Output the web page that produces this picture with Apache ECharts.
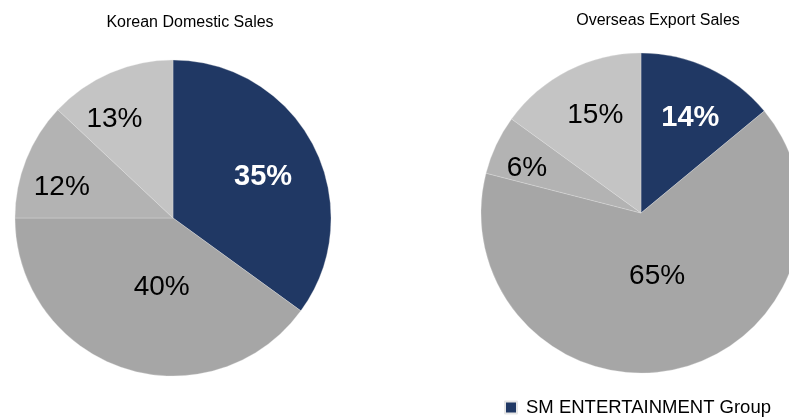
<!DOCTYPE html>
<html>
<head>
<meta charset="utf-8">
<script src="https://cdn.jsdelivr.net/npm/echarts@6/dist/echarts.min.js"></script>
<style>
  html, body { margin: 0; padding: 0; background: #ffffff; }
  #chart { width: 789px; height: 418px; }
</style>
</head>
<body>
<div id="chart"></div>
<script>
// Sales share by company, domestic vs. export
const sliceNames = ['SM ENTERTAINMENT Group', 'Others', 'Company B', 'Company C'];
const domesticShare = [35, 40, 12, 13];
const exportShare = [14, 65, 6, 15];
const titles = ['Korean Domestic Sales', 'Overseas Export Sales'];

const sliceColors = ['#203864', '#a6a6a6', '#b3b3b3', '#c4c4c4'];

// small nudges moving each percentage label off the default mid-radius spot
const labelNudge = [
  [[17, -4], [14, -9], [-35, -1], [-26, -23]],
  [[14, -20], [-2, -18], [-39, -9], [-8, -24]]
];

const FONT = '"Liberation Sans", Arial, sans-serif';

function buildData(values) {
  return values.map((v, i) => ({
    name: sliceNames[i],
    value: v,
    itemStyle: { color: sliceColors[i] },
    label: i === 0
      ? { color: '#ffffff', fontWeight: 'bold', fontSize: 29 }
      : { color: '#000000', fontWeight: 'normal', fontSize: 28 }
  }));
}

function pieSeries(values, center, radius) {
  return {
    type: 'pie',
    center: center,
    radius: radius,
    startAngle: 90,
    clockwise: true,
    avoidLabelOverlap: false,
    animation: false,
    silent: true,
    itemStyle: { borderColor: '#e6e6e6', borderWidth: 0.3 },
    label: {
      show: true,
      position: 'inside',
      formatter: '{c}%',
      fontFamily: FONT,
      fontSize: 28
    },
    labelLine: { show: false },
    labelLayout: function (params) {
      const n = labelNudge[params.seriesIndex][params.dataIndex];
      return { dx: n[0], dy: n[1] };
    },
    data: buildData(values)
  };
}

const chart = echarts.init(document.getElementById('chart'), null, { renderer: 'canvas' });
chart.setOption({
  backgroundColor: '#ffffff',
  animation: false,
  title: [
    { text: titles[0], left: 185, top: 10, textAlign: 'center',
      textStyle: { fontFamily: FONT, fontSize: 16, fontWeight: 'normal', color: '#000' } },
    { text: titles[1], left: 653, top: 8, textAlign: 'center',
      textStyle: { fontFamily: FONT, fontSize: 16, fontWeight: 'normal', color: '#000' } }
  ],
  legend: {
    data: [sliceNames[0]],
    left: 504,
    top: 398,
    padding: 0,
    icon: 'rect',
    itemWidth: 12,
    itemHeight: 12,
    selectedMode: false,
    textStyle: { fontFamily: FONT, fontSize: 18.5, color: '#000', padding: [0, 0, 0, 4] }
  },
  series: [
    pieSeries(domesticShare, [173, 218], 158),
    pieSeries(exportShare, [641, 213], 160)
  ]
});
</script>
</body>
</html>
